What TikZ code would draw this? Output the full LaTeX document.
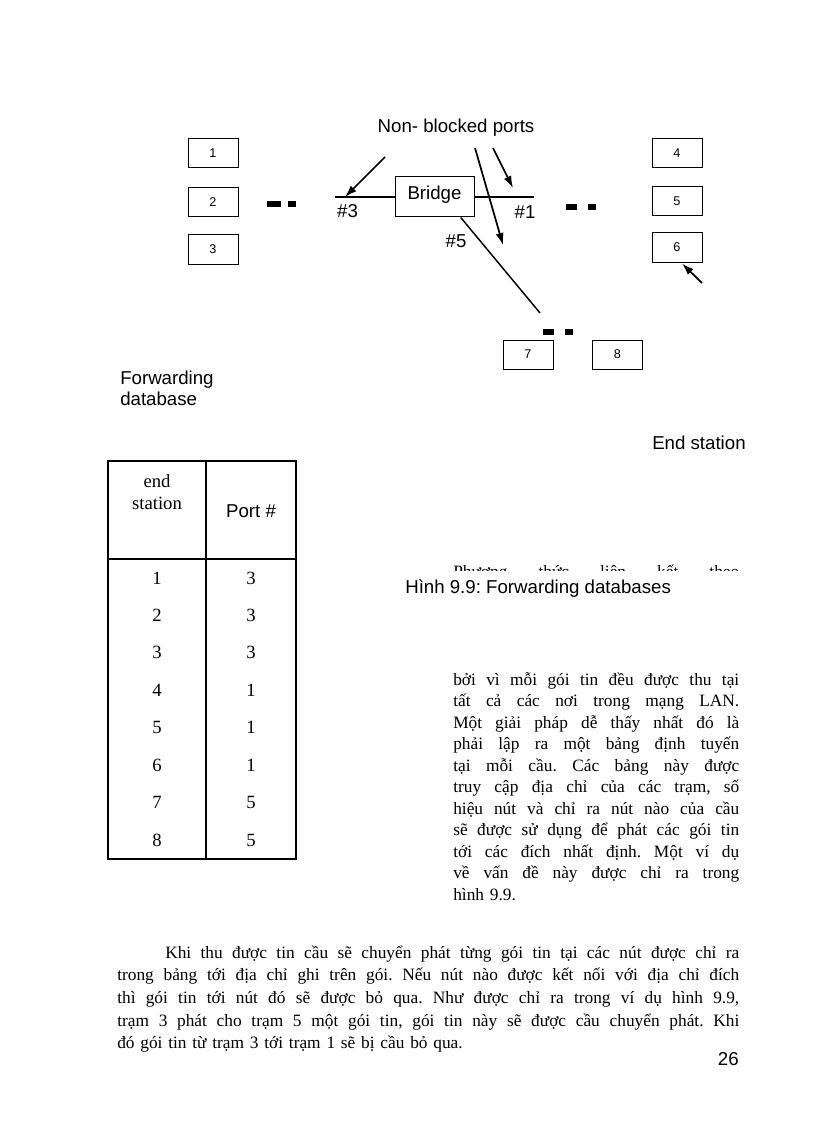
\documentclass[tikz,border=0pt]{standalone}
\usepackage{fontspec}
\setmainfont{Liberation Serif}
\setsansfont{Liberation Sans}
\usetikzlibrary{arrows.meta,positioning,calc}
\newcommand{\fullline}[2][214.5pt]{\makebox[#1][s]{\spaceskip=0pt\xspaceskip=0pt #2}}
\frenchspacing

\begin{document}
\begin{tikzpicture}[x=0.75pt,y=-0.75pt,
  every node/.style={inner sep=0pt},
  lbl/.style={font=\sffamily\fontsize{14}{15.75}\selectfont},
  stn/.style={rectangle,draw,line width=0.75pt,minimum width=37.5pt,minimum height=21.75pt,font=\sffamily\fontsize{9.5}{10}\selectfont},
  brg/.style={rectangle,draw,line width=0.75pt,minimum width=59.25pt,minimum height=30pt,text height=11pt,text depth=6.5pt,font=\sffamily\fontsize{14}{15}\selectfont},
  seg/.style={line width=0.8pt},
  edge/.style={line width=1.3pt,-{Latex[length=9pt,width=6pt]}},
  gap/.style={line width=4.5pt},
  cell/.style={font=\fontsize{14}{16.5}\selectfont},
  body/.style={font=\fontsize{13}{16.125}\selectfont,align=left,anchor=base west}
]
\path[fill=white] (0,0) rectangle (816,1123);
\useasboundingbox (0,0) rectangle (816,1123);

% stations and bridge
\node[stn] (s1) at (213,153.5) {1};
\node[stn] (s2) at (213,202) {2};
\node[stn] (s3) at (213,249.5) {3};
\node[stn] (s4) at (677,153.5) {4};
\node[stn] (s5) at (677,201.5) {5};
\node[stn] (s6) at (677,247.5) {6};
\node[stn] (s7) at (528,354.5) {7};
\node[stn] (s8) at (617.5,354.5) {8};
\node[brg] (br) at (434.5,197) {Bridge};

\draw[gap] (267,204) -- (281,204) (288,204) -- (296,204);
\draw[gap] (566,207.5) -- (577,207.5) (588,207.5) -- (596,207.5);
\draw[gap] (543,331.5) -- (554,331.5) (565,331.5) -- (573,331.5);

% ports
\coordinate (w3) at (335,197);
\coordinate (e1) at (534,197);
\coordinate (d5) at (540,313);
\draw[seg] (w3) -- (br.west);
\draw[seg] (br.east) -- (e1);
\draw[seg,line width=1.1pt] (br.-38) -- (d5);

\node[lbl,anchor=base] (nbp) at (456,133) {Non- blocked ports};
\node[lbl] (l3) at (347.5,211.5) {\#3};
\node[lbl] (l1) at (525,212.5) {\#1};
\node[lbl] (l5) at (456,241.5) {\#5};

\coordinate (a3) at (385,157);
\coordinate (p3) at (345,197);
\coordinate (a5) at (475,148);
\coordinate (p5) at (503,245);
\coordinate (a1) at (493,148);
\coordinate (p1) at (513,188);
\coordinate (a6) at (702,283);
\draw[edge] (a3) -- (p3);
\draw[edge] (a5) -- (p5);
\draw[edge] (a1) -- (p1);
\draw[edge] (a6) -- ($(s6.south)+(5,1)$);

\node[lbl,align=left,anchor=west] (fdb) at (120,388) {Forwarding\\database};
\node[lbl,anchor=west] (es) at (652,443) {End station};

% forwarding table
\draw[line width=0.9pt] (108,461) rectangle (296,859);
\draw[line width=0.9pt] (206,461) -- (206,859) (108,559) -- (296,559);
\node[cell,align=center] (hst) at (157,492) {end\\station};
\node[lbl] (hpt) at (251,511) {Port \#};
\foreach \s/\p [count=\i from 0] in {1/3,2/3,3/3,4/1,5/1,6/1,7/5,8/5}{
  \node[cell] (r\s) at (157,{578+37.43*\i}) {\s};
  \node[cell] (q\s) at (251,{578+37.43*\i}) {\p};
}

% text of the page
\begin{scope}
\clip (440,540) rectangle (750,570.5);
\node[body,text width=214.5pt] (cut) at (453,577) {\fullline{Phương thức liên kết theo}};
\end{scope}
\node[lbl,anchor=base west] (cap) at (405,593) {Hình 9.9: Forwarding databases};

\node[body,text width=214.5pt] (col) at (453,685) {%
\fullline{bởi vì mỗi gói tin đều được thu tại}\\
\fullline{tất cả các nơi trong mạng LAN.}\\
\fullline{Một giải pháp dễ thấy nhất đó là}\\
\fullline{phải lập ra một bảng định tuyến}\\
\fullline{tại mỗi cầu. Các bảng này được}\\
\fullline{truy cập địa chỉ của các trạm, số}\\
\fullline{hiệu nút và chỉ ra nút nào của cầu}\\
\fullline{sẽ được sử dụng để phát các gói tin}\\
\fullline{tới các đích nhất định. Một ví dụ}\\
\fullline{về vấn đề này được chỉ ra trong}\\
hình 9.9.};

\node[body,font=\fontsize{13}{17.06}\selectfont,text width=466.5pt] (par) at (117,958) {%
\fullline[466.5pt]{\hspace{36pt}Khi thu được tin cầu sẽ chuyển phát từng gói tin tại các nút được chỉ ra}\\
\fullline[466.5pt]{trong bảng tới địa chỉ ghi trên gói. Nếu nút nào được kết nối với địa chỉ đích}\\
\fullline[466.5pt]{thì gói tin tới nút đó sẽ được bỏ qua. Như được chỉ ra trong ví dụ hình 9.9,}\\
\fullline[466.5pt]{trạm 3 phát cho trạm 5 một gói tin, gói tin này sẽ được cầu chuyển phát. Khi}\\
đó gói tin từ trạm 3 tới trạm 1 sẽ bị cầu bỏ qua.};

\node[lbl,anchor=east] (pg) at (739,1059) {26};
\end{tikzpicture}
\end{document}
